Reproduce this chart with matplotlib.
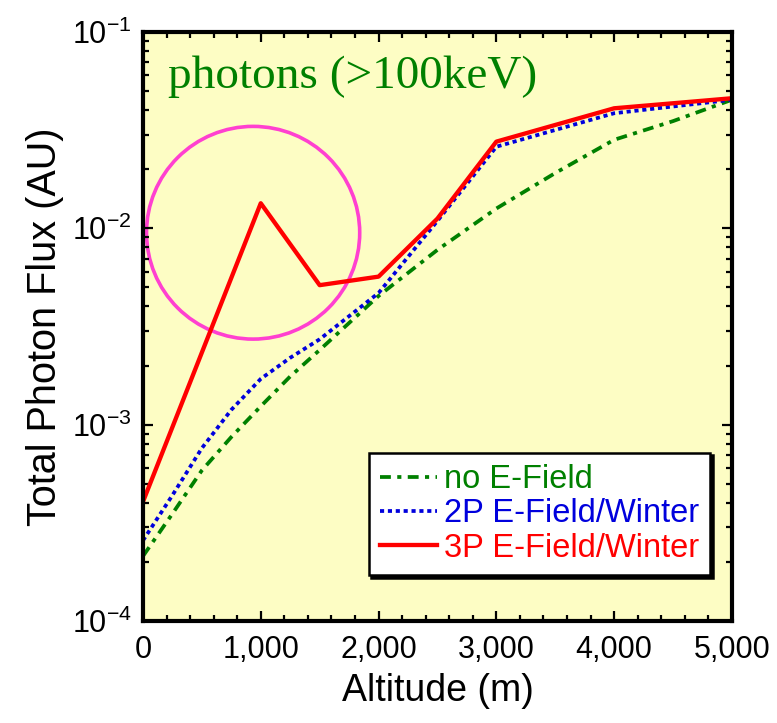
import numpy as np
import matplotlib
matplotlib.use("Agg")
import matplotlib.pyplot as plt
from matplotlib.patches import Ellipse
from matplotlib.ticker import FixedLocator, MultipleLocator, FuncFormatter, LogLocator, NullFormatter

plt.rcParams['font.family'] = ['Liberation Sans', 'DejaVu Sans']

# altitude (m) and total photon flux (AU)
alt_none = [0, 250, 500, 750, 1000, 1250, 1500, 2000, 2500, 3000, 3500, 4000, 4500, 5000]
flux_none = [2.14e-4, 3.52e-4, 5.85e-4, 8.65e-4, 1.24e-3, 1.76e-3, 2.40e-3,
             4.52e-3, 7.76e-3, 1.26e-2, 1.91e-2, 2.82e-2, 3.51e-2, 4.51e-2]

alt_2p = [0, 250, 500, 750, 1000, 1250, 1500, 2000, 2500, 3000, 4000, 5000]
flux_2p = [2.57e-4, 4.37e-4, 7.59e-4, 1.19e-3, 1.71e-3, 2.19e-3, 2.72e-3,
           4.68e-3, 1.09e-2, 2.60e-2, 3.85e-2, 4.51e-2]

alt_3p = [0, 1000, 1500, 2000, 2500, 3000, 4000, 5000]
flux_3p = [4.05e-4, 1.34e-2, 5.13e-3, 5.67e-3, 1.12e-2, 2.76e-2, 4.08e-2, 4.59e-2]

labels = ['no E-Field', '2P E-Field/Winter', '3P E-Field/Winter']
colors = ['#008000', '#0000DD', '#FF0000']

fig = plt.figure(figsize=(7.77, 7.23), dpi=100)
ax = fig.add_axes([0.184, 0.141, 0.758, 0.815])
ax.set_facecolor('#FDFDC4')

ax.plot(alt_none, flux_none, color=colors[0], lw=2.7, dashes=(2.9, 1.7, 1.1, 1.7), label=labels[0])
ax.plot(alt_2p, flux_2p, color=colors[1], lw=2.7, dashes=(1.1, 1.0), label=labels[1])
ax.plot(alt_3p, flux_3p, color=colors[2], lw=3.1, label=labels[2])

ax.set_yscale('log')
ax.set_xlim(0, 5000)
ax.set_ylim(1e-4, 1e-1)

# highlight circle round the 1000 m peak
ax.add_patch(Ellipse((0.187, 0.659), 0.362, 0.361, transform=ax.transAxes,
                     fill=False, edgecolor='#FF40D0', lw=2.6, zorder=1))

ax.text(0.043, 0.905, 'photons (>100keV)', transform=ax.transAxes, color='#008000',
        fontsize=34, family=['Liberation Serif', 'DejaVu Serif'], va='baseline')

ax.xaxis.set_major_locator(MultipleLocator(1000))
ax.xaxis.set_minor_locator(MultipleLocator(200))
ax.xaxis.set_major_formatter(FuncFormatter(lambda v, p: f'{int(v):,}'))

ax.yaxis.set_major_locator(FixedLocator([1e-4, 1e-3, 1e-2, 1e-1]))
ax.yaxis.set_minor_locator(LogLocator(base=10, subs=np.arange(2, 10)))
ax.yaxis.set_major_formatter(FuncFormatter(lambda v, p: r'$\mathregular{10^{%d}}$' % round(np.log10(v))))
ax.yaxis.set_minor_formatter(NullFormatter())

ax.tick_params(which='both', direction='in', top=True, right=True, width=1.6, labelsize=22)
ax.tick_params(which='major', length=7.5)
ax.tick_params(which='minor', length=4.5)
ax.tick_params(axis='x', pad=10)
ax.tick_params(axis='y', pad=8)
for s in ax.spines.values():
    s.set_linewidth(3.0)

ax.set_xlabel('Altitude (m)', fontsize=27, labelpad=6)
ax.set_ylabel('Total Photon Flux (AU)', fontsize=28.5, labelpad=6)

leg = ax.legend(loc='lower right', bbox_to_anchor=(0.963, 0.078), borderaxespad=0,
                fontsize=23.5, frameon=True, fancybox=False, framealpha=1,
                handlelength=1.75, handletextpad=0.2, labelspacing=0.1, borderpad=0.35,
                shadow={'facecolor': 'black', 'edgecolor': 'black', 'alpha': 1})
leg.get_frame().set_edgecolor('black')
leg.get_frame().set_linewidth(1.8)
for t, c in zip(leg.get_texts(), colors):
    t.set_color(c)

plt.savefig('out.png', dpi=100)
